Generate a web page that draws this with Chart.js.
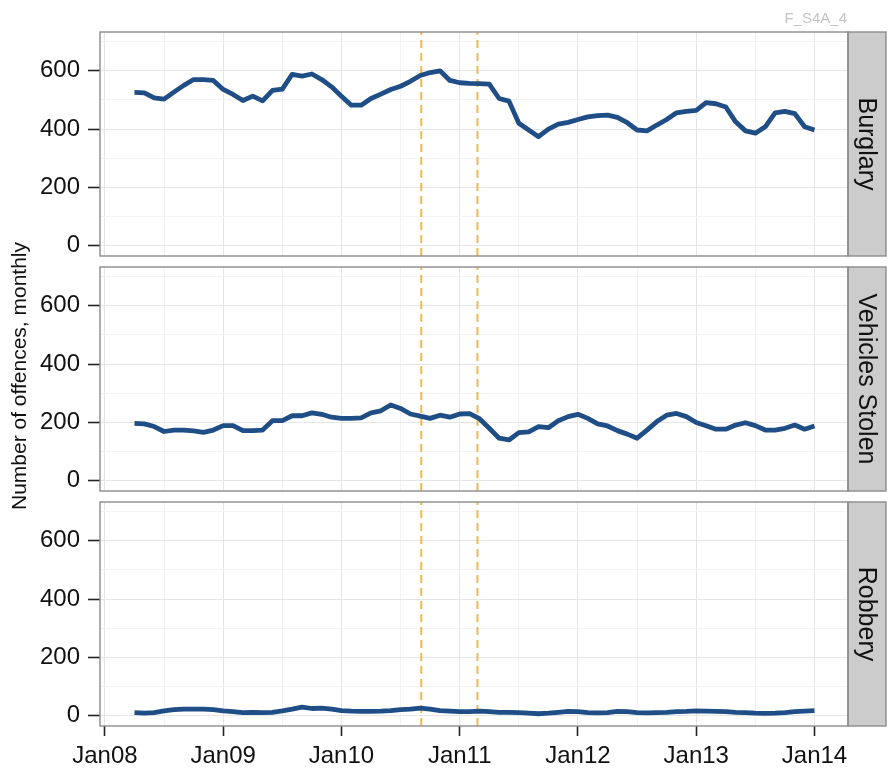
<!DOCTYPE html>
<html>
<head>
<meta charset="utf-8">
<title>Offences, monthly</title>
<script src="https://cdn.jsdelivr.net/npm/chart.js@4.4.1/dist/chart.umd.min.js"></script>
<style>
  body { margin: 0; background: #fff; }
  #wrap { position: relative; width: 888px; height: 770px; }
  #wrap canvas { position: absolute; left: 0; top: 0; }
</style>
</head>
<body>
<div id="wrap">
  <canvas id="burglary" width="888" height="770"></canvas>
  <canvas id="vehicles" width="888" height="770"></canvas>
  <canvas id="robbery" width="888" height="770"></canvas>
</div>
<script>
// months counted from Jan 2008 (3 = Apr08 ... 72 = Jan14)
const months = [3, 4, 5, 6, 7, 8, 9, 10, 11, 12,
  13, 14, 15, 16, 17, 18, 19, 20, 21, 22,
  23, 24, 25, 26, 27, 28, 29, 30, 31, 32,
  33, 34, 35, 36, 37, 38, 39, 40, 41, 42,
  43, 44, 45, 46, 47, 48, 49, 50, 51, 52,
  53, 54, 55, 56, 57, 58, 59, 60, 61, 62,
  63, 64, 65, 66, 67, 68, 69, 70, 71, 72];

const burglary = [526, 524, 507, 503, 527, 550, 570, 570, 567, 536,
  519, 498, 513, 497, 533, 537, 588, 582, 589, 570,
  545, 513, 482, 482, 505, 520, 536, 547, 564, 584,
  594, 600, 567, 559, 557, 556, 554, 505, 496, 420,
  397, 374, 400, 417, 423, 433, 442, 446, 448, 440,
  422, 397, 394, 414, 433, 456, 461, 464, 491, 487,
  476, 425, 394, 386, 408, 456, 461, 453, 408, 397];

const vehicles = [197, 195, 186, 169, 174, 174, 171, 166, 174, 189,
  189, 172, 172, 174, 206, 206, 223, 223, 233, 228,
  218, 214, 214, 216, 233, 240, 260, 248, 229, 222,
  214, 225, 218, 229, 230, 213, 180, 146, 140, 165,
  168, 186, 182, 206, 220, 228, 214, 195, 188, 172,
  160, 146, 174, 203, 225, 231, 220, 200, 189, 177,
  177, 191, 199, 189, 174, 174, 180, 191, 177, 188];

const robbery = [11, 9, 11, 17, 21, 23, 23, 23, 21, 17,
  14, 11, 12, 11, 12, 17, 23, 30, 25, 26,
  23, 18, 16, 15, 15, 16, 18, 21, 23, 26,
  23, 18, 16, 14, 14, 16, 14, 12, 12, 11,
  9, 7, 9, 12, 15, 14, 11, 10, 11, 15,
  14, 11, 10, 11, 12, 14, 15, 17, 16, 15,
  14, 12, 11, 9, 8, 9, 11, 14, 16, 18];

// dashed markers (Sep 2010, late Feb 2011)
const markers = [32.1, 37.8];

const xTicks = [0, 6, 12, 18, 24, 30, 36, 42, 48, 54, 60, 66, 72];
const xTickLabels = ['Jan08', '', 'Jan09', '', 'Jan10', '', 'Jan11', '', 'Jan12', '', 'Jan13', '', 'Jan14'];
const yTicks = [0, 100, 200, 300, 400, 500, 600, 700];
const yTickLabels = ['0', '', '200', '', '400', '', '600', ''];

const xMin = -0.5, xMax = 75.4;
const yMin = -35, yMax = 733;
const FONT = '"Liberation Sans", Arial, sans-serif';
const MAJOR = '#e6e6e6', MINOR = '#f3f3f3';

const facetPlugin = {
  id: 'facet',
  afterDraw(chart, args, opts) {
    const ctx = chart.ctx;
    const a = chart.chartArea;
    ctx.save();
    ctx.fillStyle = '#cccccc';
    ctx.fillRect(a.right, a.top, 38, a.bottom - a.top);
    ctx.strokeStyle = '#8c8c8c';
    ctx.lineWidth = 1.4;
    ctx.strokeRect(a.right, a.top, 38, a.bottom - a.top);
    ctx.strokeRect(a.left, a.top, a.right - a.left, a.bottom - a.top);

    ctx.fillStyle = '#111';
    ctx.textAlign = 'center';
    ctx.textBaseline = 'middle';
    ctx.save();
    ctx.translate(a.right + 18, (a.top + a.bottom) / 2);
    ctx.rotate(Math.PI / 2);
    ctx.font = '25px ' + FONT;
    ctx.fillText(opts.label, 0, 0);
    ctx.restore();

    if (opts.yTitle) {
      ctx.save();
      ctx.translate(20, 376);
      ctx.rotate(-Math.PI / 2);
      ctx.font = '21px ' + FONT;
      ctx.fillText(opts.yTitle, 0, 0);
      ctx.restore();
    }
    if (opts.note) {
      ctx.fillStyle = '#c4c4c4';
      ctx.font = '15px ' + FONT;
      ctx.textAlign = 'right';
      ctx.textBaseline = 'alphabetic';
      ctx.fillText(opts.note, 847, 23);
    }
    ctx.restore();
  }
};

function makePanel(id, values, facet, padTop, padBottom, showX) {
  const markerSets = markers.map(m => ({
    data: [{x: m, y: yMin}, {x: m, y: yMax}],
    borderColor: '#f2b84b',
    borderWidth: 2,
    borderDash: [8, 5],
    pointRadius: 0
  }));

  return new Chart(document.getElementById(id), {
    type: 'line',
    data: {
      datasets: [{
        data: months.map((m, i) => ({x: m, y: values[i]})),
        borderColor: '#1f4e86',
        borderWidth: 4.8,
        borderJoinStyle: 'round',
        pointRadius: 0,
        tension: 0
      }, ...markerSets]
    },
    options: {
      responsive: false,
      animation: false,
      events: [],
      layout: {padding: {top: padTop, bottom: padBottom, left: 0, right: 40}},
      plugins: {
        legend: {display: false},
        tooltip: {enabled: false},
        facet: facet
      },
      scales: {
        x: {
          type: 'linear',
          min: xMin,
          max: xMax,
          afterBuildTicks: s => { s.ticks = xTicks.map(v => ({value: v})); },
          afterFit: s => { s.height = showX ? 44 : 0; },
          border: {display: false},
          grid: {
            color: c => (c.tick && c.tick.value % 12 === 0) ? MAJOR : MINOR,
            drawTicks: showX,
            tickLength: 10,
            tickWidth: 1.6,
            tickColor: c => (c.tick && c.tick.value % 12 === 0) ? '#222' : 'rgba(0,0,0,0)'
          },
          ticks: {
            display: showX,
            autoSkip: false,
            maxRotation: 0,
            padding: 6,
            color: '#111',
            font: {family: FONT, size: 24},
            callback: v => xTickLabels[xTicks.indexOf(v)]
          }
        },
        y: {
          min: yMin,
          max: yMax,
          afterBuildTicks: s => { s.ticks = yTicks.map(v => ({value: v})); },
          afterFit: s => { s.width = 100; },
          border: {display: false},
          grid: {
            color: c => (c.tick && c.tick.value % 200 === 0) ? MAJOR : MINOR,
            tickLength: 12,
            tickWidth: 1.6,
            tickColor: c => (c.tick && c.tick.value % 200 === 0) ? '#222' : 'rgba(0,0,0,0)'
          },
          ticks: {
            padding: 8,
            color: '#111',
            font: {family: FONT, size: 24},
            callback: v => yTickLabels[yTicks.indexOf(v)]
          }
        }
      }
    },
    plugins: [facetPlugin]
  });
}

makePanel('burglary', burglary, {label: 'Burglary', note: 'F_S4A_4'}, 32, 514, false);
makePanel('vehicles', vehicles, {label: 'Vehicles Stolen', yTitle: 'Number of offences, monthly'}, 267, 279, false);
makePanel('robbery', robbery, {label: 'Robbery'}, 502, 0, true);
</script>
</body>
</html>
